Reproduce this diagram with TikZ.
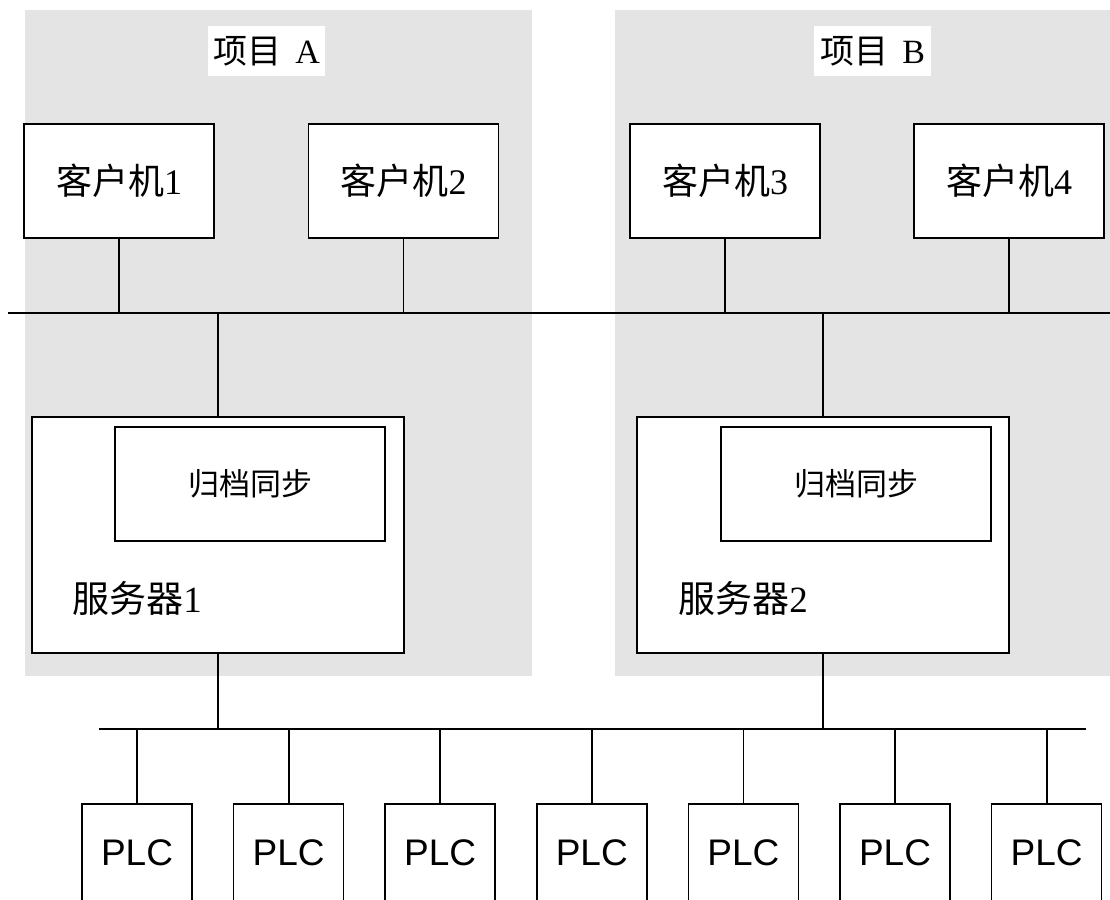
\documentclass[tikz,border=0pt]{standalone}
\usepackage{fontspec}
\setmainfont{Liberation Serif}
\newfontfamily\cjk{Noto Sans CJK SC}
\newfontfamily\plcfont{Liberation Sans}
\usepackage{tikz}
\usetikzlibrary{positioning}
\definecolor{panelgray}{RGB}{228,228,228}

\begin{document}
\begin{tikzpicture}[
    x=1pt, y=-1pt,
    node distance=0pt and 40pt,
    panel/.style={fill=panelgray, draw=none, inner sep=0pt},
    title/.style={fill=white, inner sep=0pt, minimum width=117pt, minimum height=50pt, font=\fontsize{34}{34}\selectfont},
    box/.style={draw, fill=white, line width=1.6pt, inner sep=0pt},
    client/.style={box, minimum width=190pt, minimum height=114pt, font=\fontsize{36}{36}\selectfont},
    server/.style={box, minimum width=372pt, minimum height=236pt},
    sync/.style={box, minimum width=270pt, minimum height=114pt, font=\fontsize{31}{31}\selectfont},
    srvlabel/.style={anchor=west, inner sep=0pt, font=\fontsize{37}{37}\selectfont},
    plc/.style={box, minimum width=110pt, minimum height=98pt, font=\plcfont\fontsize{37}{37}\selectfont},
    bus/.style={line width=1.8pt}
]
\clip (0,0) rectangle (1110,899);

\node[panel, minimum width=507pt, minimum height=666pt] (PA) at (278.5,343) {};
\node[panel, minimum width=497pt, minimum height=666pt] (PB) at (863.5,343) {};
\node[title] (TA) at (266.5,51) {{\cjk 项目}\, A};
\node[title] (TB) at (872.5,51) {{\cjk 项目}\, B};

\node[client] (C1) at (119,181) {{\cjk 客户机}1};
\node[client] (C2) at (403.5,181) {{\cjk 客户机}2};
\node[client] (C3) at (725,181) {{\cjk 客户机}3};
\node[client] (C4) at (1009,181) {{\cjk 客户机}4};

\node[server] (S1) at (218,535) {};
\node[server] (S2) at (823,535) {};
\node[sync] (A1) [below left=10pt and 19pt of S1.north east, anchor=north east] {\cjk 归档同步};
\node[sync] (A2) [below left=10pt and 18pt of S2.north east, anchor=north east] {\cjk 归档同步};
\node[srvlabel] (L1) at ([xshift=41pt, yshift=-63pt]S1.west) {{\cjk 服务器}1};
\node[srvlabel] (L2) at ([xshift=42pt, yshift=-63pt]S2.west) {{\cjk 服务器}2};

\node[plc] (P1) at (137,853) {PLC};
\node[plc] (P2) [right=of P1] {PLC};
\node[plc] (P3) [right=of P2] {PLC};
\node[plc] (P4) [right=of P3] {PLC};
\node[plc] (P5) [right=of P4] {PLC};
\node[plc] (P6) [right=of P5] {PLC};
\node[plc] (P7) [right=of P6] {PLC};

\coordinate (NL) at (8,313);
\coordinate (NR) at (1112,313);
\coordinate (FL) at (99,729);
\coordinate (FR) at (1086,729);

\draw[bus] (NL) -- (NR);
\draw[bus] (FL) -- (FR);
\draw[bus] (C1) -- (C1 |- NL);
\draw[bus] (C2) -- (C2 |- NL);
\draw[bus] (C3) -- (C3 |- NL);
\draw[bus] (C4) -- (C4 |- NL);
\draw[bus] (S1) -- (S1 |- NL);
\draw[bus] (S2) -- (S2 |- NL);
\draw[bus] (S1) -- (S1 |- FL);
\draw[bus] (S2) -- (S2 |- FL);
\draw[bus] (P1) -- (P1 |- FL);
\draw[bus] (P2) -- (P2 |- FL);
\draw[bus] (P3) -- (P3 |- FL);
\draw[bus] (P4) -- (P4 |- FL);
\draw[bus] (P5) -- (P5 |- FL);
\draw[bus] (P6) -- (P6 |- FL);
\draw[bus] (P7) -- (P7 |- FL);
\end{tikzpicture}
\end{document}
